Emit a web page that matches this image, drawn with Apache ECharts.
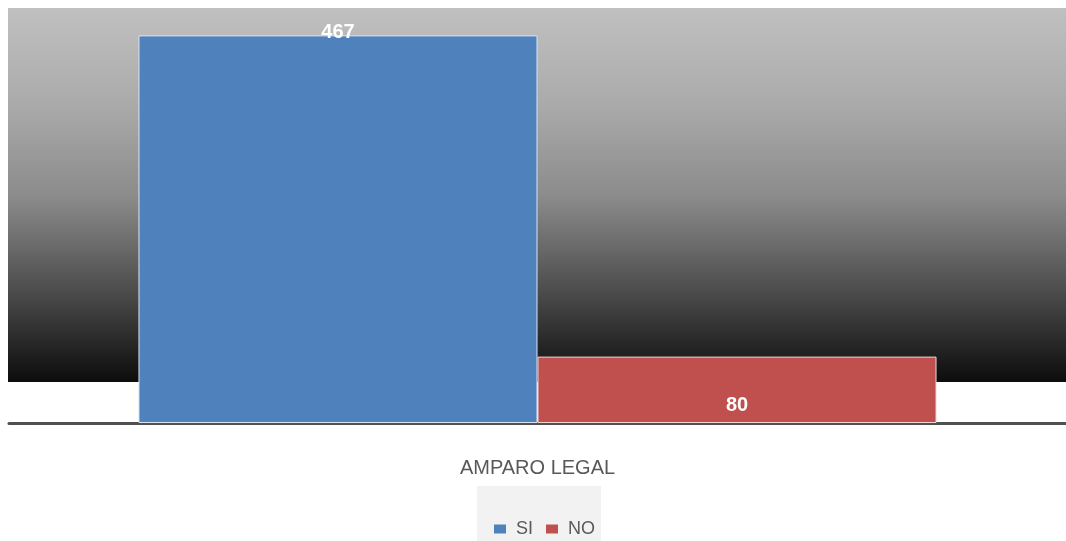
<!DOCTYPE html>
<html><head><meta charset="utf-8">
<script src="https://cdn.jsdelivr.net/npm/echarts@6/dist/echarts.min.js"></script>
<style>html,body{margin:0;padding:0;background:#fff}#c{width:1066px;height:541px}</style>
</head><body><div id="c"></div>
<script>
const categories = ['AMPARO LEGAL'];
const seriesNames = ['SI', 'NO'];
const siValues = [467];
const noValues = [80];
const colors = ['#4f81bd', '#c0504d'];

const chart = echarts.init(document.getElementById('c'), null, {renderer: 'canvas'});
const font = '"Liberation Sans", Arial, sans-serif';
chart.setOption({
  animation: false,
  backgroundColor: '#ffffff',
  grid: {left: 9, right: 0, top: 8, bottom: 118, containLabel: false},
  graphic: [{
    type: 'rect', z: -10, silent: true,
    shape: {x: 8, y: 8, width: 1058, height: 374},
    style: {fill: new echarts.graphic.LinearGradient(0, 0, 0, 1, [
      {offset: 0, color: '#c0c0c0'},
      {offset: 0.25, color: '#ababab'},
      {offset: 0.5, color: '#8c8c8c'},
      {offset: 0.75, color: '#4e4e4e'},
      {offset: 1, color: '#0c0c0c'}
    ])}
  }],
  legend: {
    data: seriesNames,
    left: 477, top: 486,
    padding: [34, 6, 30, 17],
    backgroundColor: '#f2f2f2',
    icon: 'rect', itemWidth: 12, itemHeight: 9, itemGap: 13,
    itemStyle: {borderWidth: 0},
    textStyle: {color: '#595959', fontSize: 18, fontFamily: font, padding: [0, 0, 0, 5]}
  },
  xAxis: {
    type: 'category', data: categories,
    axisLine: {lineStyle: {color: '#505050', width: 3}},
    axisTick: {show: false},
    axisLabel: {color: '#595959', fontSize: 20, fontFamily: font, margin: 35}
  },
  yAxis: {
    type: 'value', min: 0, max: 500,
    show: false, splitLine: {show: false}
  },
  series: [
    {name: seriesNames[0], type: 'bar', data: siValues, barGap: '0%', barCategoryGap: '24.5%',
     itemStyle: {color: colors[0], borderColor: '#dce4ee', borderWidth: 1},
     label: {show: true, position: 'top', distance: -7, color: '#ffffff', fontWeight: 'bold', fontSize: 20, fontFamily: font}},
    {name: seriesNames[1], type: 'bar', data: noValues,
     itemStyle: {color: colors[1], borderColor: '#ecd6d6', borderWidth: 1},
     label: {show: true, position: 'insideBottom', distance: 8, color: '#ffffff', fontWeight: 'bold', fontSize: 20, fontFamily: font}}
  ]
});
</script></body></html>
